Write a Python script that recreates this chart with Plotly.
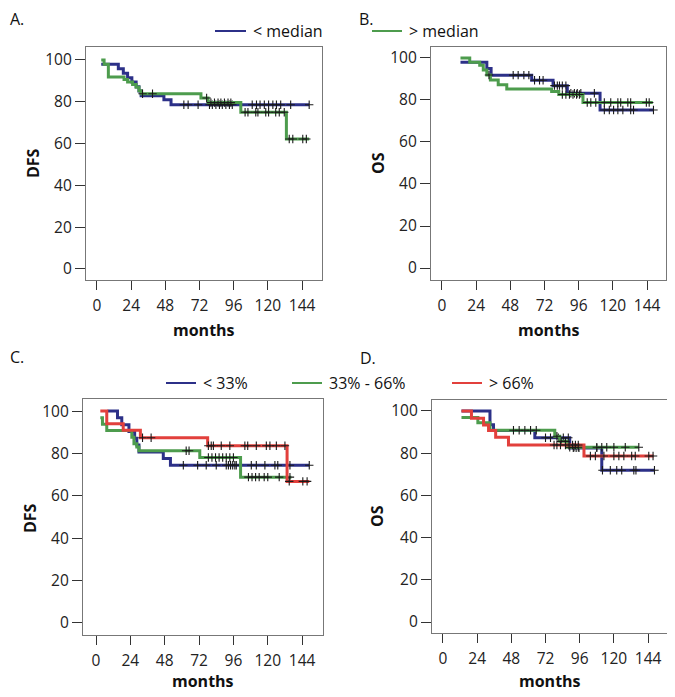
import plotly.graph_objects as go

# page body adds an 8px margin; the figure is sized so it fits the window exactly
OFF = 8
W, H = 675 - OFF, 697 - OFF

# ---------------- data ----------------
tick_vals_x = [0, 24, 48, 72, 96, 120, 144]
tick_vals_y = [0, 20, 40, 60, 80, 100]

# Panel A: DFS by median
a_lo_t = [3, 15, 18.5, 21.5, 24.5, 27.5, 29.5, 31, 47, 52, 149]
a_lo_s = [97.9, 95.8, 93.6, 91.5, 89.4, 87.2, 85.1, 82.9, 80.9, 78.6, 78.6]
a_lo_c = [61, 64, 71, 79, 81, 83.5, 86, 88, 90.5, 93, 95, 109, 112, 114.5, 117.5,
          120.5, 123.5, 126, 129, 136, 149]
a_hi_t = [3, 5, 8, 19, 21.5, 25, 27.5, 29.5, 31, 73, 78, 101, 133, 149]
a_hi_s = [100, 97.9, 91.9, 90.7, 89.5, 88.3, 86.9, 85.3, 83.8, 81.8, 79.6, 75.0, 62.2, 62.2]
a_hi_c = [32, 39, 77, 80, 82.5, 85, 87, 89.5, 92, 94, 104, 106, 111.5, 113, 118.5,
          120.5, 125.5, 128, 131.5, 135, 137.5, 144.5, 147]

# Panel B: OS by median
b_lo_t = [13, 31.5, 34.5, 63, 78, 88, 111, 148.5]
b_lo_s = [97.9, 95.0, 91.8, 89.4, 86.8, 83.2, 75.2, 75.2]
b_lo_c = [50, 53.5, 57.5, 61, 65, 68.5, 71, 79, 81, 82.5, 84.5, 87, 90.5, 93, 95, 97.5,
          107, 114, 117.5, 120.5, 123.5, 127, 132.5, 134.5, 148.5]
b_hi_t = [13, 19.5, 26.5, 29, 31.5, 34, 39.5, 45.5, 77, 82, 99, 148]
b_hi_s = [100, 97.9, 96.5, 94.3, 91.9, 89.5, 87.2, 85.2, 84.0, 82.6, 78.8, 78.8]
b_hi_c = [33, 84.5, 87, 89.5, 92, 94.5, 96.5, 102, 104.5, 108, 114, 118.5, 123.5,
          125.5, 130.5, 132.5, 143.5, 145.5]

# Panel C: DFS by tertile
c_lo_t = [8, 15, 18, 23, 27, 28.5, 30, 47, 52, 149]
c_lo_s = [100, 96.8, 93.6, 90.4, 87.2, 84.0, 80.7, 77.6, 74.4, 74.4]
c_lo_c = [61, 71, 77, 84, 91, 92.5, 94, 95.5, 97, 98, 108.5, 112, 118, 125, 127, 135.5, 149]
c_mid_t = [3, 4.5, 7.5, 25, 26.5, 28.5, 30, 72.5, 101, 136.5]
c_mid_s = [96.9, 93.8, 90.8, 87.6, 84.6, 83.0, 81.3, 78.1, 68.8, 68.8]
c_mid_c = [63, 65, 78.5, 81, 83.5, 86, 88.5, 91, 93.5, 96, 106.5, 109, 111.5, 114,
           117.5, 120, 128, 135.5]
c_hi_t = [3, 7.5, 19, 31, 78, 133.5, 149]
c_hi_s = [100, 94.0, 91.0, 87.4, 83.6, 66.8, 66.8]
c_hi_c = [32.5, 38.5, 78.5, 80.5, 82, 87.5, 93.5, 104, 106, 112, 119, 121.5, 126,
          132, 135, 144.5, 147.5]

# Panel D: OS by tertile
d_lo_t = [13, 33, 35.5, 64.5, 89, 111.5, 148.5]
d_lo_s = [100, 93.5, 90.8, 87.3, 82.5, 71.9, 71.9]
d_lo_c = [72, 75.5, 81, 84.5, 88, 91.5, 93.5, 95.5, 108, 112, 117.5, 122, 125.5,
          134, 135.5, 148.5]
d_mid_t = [13, 24.5, 33, 78.5, 82, 87, 137.5]
d_mid_s = [96.9, 94.4, 90.9, 88.0, 85.6, 82.8, 82.8]
d_mid_c = [49.5, 53.5, 57.5, 61.5, 65.5, 80, 83, 86, 89, 92, 95, 108, 111.5, 115,
           120, 128, 137.5]
d_hi_t = [13, 20, 28.5, 32, 37, 46, 99, 148]
d_hi_s = [100, 96.6, 93.4, 90.8, 87.6, 83.9, 78.7, 78.7]
d_hi_c = [78, 80, 82.5, 86, 88.5, 91, 93, 95, 103.5, 107, 113, 120, 123.5, 127,
          132.5, 135, 144.5, 147.5]

BLUE = "#2c3088"
GREEN = "#4d9c4d"
RED = "#e2403c"

FONT = "Open Sans"


def fx(px):
    return (px - OFF) / W


def fy(py):
    return 1 - (py - OFF) / H


# ---------------- layout (window-pixel frames) ----------------
frames = {
    1: dict(px=(86, 322), py=(47, 280), xr=(-7.7, 158.0), yr=(-5.3, 106.2)),
    2: dict(px=(431, 666), py=(47, 280), xr=(-7.7, 157.3), yr=(-5.7, 105.2)),
    3: dict(px=(83, 323), py=(399, 635), xr=(-9.1, 158.6), yr=(-5.7, 105.7)),
    4: dict(px=(432, 668), py=(400, 633), xr=(-7.7, 158.0), yr=(-5.2, 105.2)),
}

fig = go.Figure()


def surv_at(ts, ss, t):
    v = ss[0]
    for ti, si in zip(ts, ss):
        if ti <= t:
            v = si
    return v


def add_curve(k, ts, ss, cs, color):
    xa = "x" if k == 1 else f"x{k}"
    ya = "y" if k == 1 else f"y{k}"
    fig.add_trace(go.Scatter(x=ts, y=ss, mode="lines", line=dict(color=color, width=3, shape="hv"),
                             xaxis=xa, yaxis=ya, showlegend=False, hoverinfo="skip"))
    fig.add_trace(go.Scatter(x=cs, y=[surv_at(ts, ss, c) for c in cs], mode="markers",
                             marker=dict(symbol="cross-thin", size=6,
                                         line=dict(color="#1a1a1a", width=1.1)),
                             xaxis=xa, yaxis=ya, showlegend=False, hoverinfo="skip"))


add_curve(1, a_lo_t, a_lo_s, a_lo_c, BLUE)
add_curve(1, a_hi_t, a_hi_s, a_hi_c, GREEN)
add_curve(2, b_lo_t, b_lo_s, b_lo_c, BLUE)
add_curve(2, b_hi_t, b_hi_s, b_hi_c, GREEN)
add_curve(3, c_lo_t, c_lo_s, c_lo_c, BLUE)
add_curve(3, c_mid_t, c_mid_s, c_mid_c, GREEN)
add_curve(3, c_hi_t, c_hi_s, c_hi_c, RED)
add_curve(4, d_lo_t, d_lo_s, d_lo_c, BLUE)
add_curve(4, d_mid_t, d_mid_s, d_mid_c, GREEN)
add_curve(4, d_hi_t, d_hi_s, d_hi_c, RED)

layout = dict(width=W, height=H, margin=dict(l=0, r=0, t=0, b=0),
              paper_bgcolor="white", plot_bgcolor="white", showlegend=False,
              font=dict(family=FONT, size=15, color="#222"))

for k, f in frames.items():
    xk = "xaxis" if k == 1 else f"xaxis{k}"
    yk = "yaxis" if k == 1 else f"yaxis{k}"
    xa = "x" if k == 1 else f"x{k}"
    ya = "y" if k == 1 else f"y{k}"
    layout[xk] = dict(domain=[fx(f["px"][0]), fx(f["px"][1])], range=list(f["xr"]),
                      anchor=ya, tickvals=tick_vals_x, ticks="outside", ticklen=9,
                      tickcolor="#333", tickwidth=1, showline=True, linecolor="#777",
                      linewidth=1.3, mirror=True, showgrid=False, zeroline=False,
                      ticklabelstandoff=2,
                      tickfont=dict(family=FONT, size=15.5, color="#222"))
    layout[yk] = dict(domain=[fy(f["py"][1]), fy(f["py"][0])], range=list(f["yr"]),
                      anchor=xa, tickvals=tick_vals_y, ticks="outside", ticklen=10,
                      tickcolor="#333", tickwidth=1, showline=True, linecolor="#777",
                      linewidth=1.3, mirror=True, showgrid=False, zeroline=False,
                      tickfont=dict(family=FONT, size=15.5, color="#222"))

fig.update_layout(**layout)


def ann(px, py, text, size=15, bold=False, angle=0, xanchor="center"):
    fig.add_annotation(x=fx(px), y=fy(py), xref="paper", yref="paper", text=text,
                       showarrow=False, textangle=angle, xanchor=xanchor, yanchor="middle",
                       font=dict(family=FONT, size=size, color="#111",
                                 weight="bold" if bold else "normal"))


# panel letters
ann(8, 19, "A.", 16, xanchor="left")
ann(357, 19, "B.", 16, xanchor="left")
ann(8, 357, "C.", 16, xanchor="left")
ann(358, 358, "D.", 16, xanchor="left")

# axis titles
ann(33, 163, "DFS", 16, True, -90)
ann(378, 163, "OS", 16, True, -90)
ann(204, 330, "months", 16, True)
ann(549, 330, "months", 16, True)
ann(30, 518, "DFS", 16, True, -90)
ann(377, 516, "OS", 16, True, -90)
ann(203, 681, "months", 16, True)
ann(550, 681, "months", 16, True)


# legends
def leg(x0, x1, y, color, text):
    fig.add_shape(type="line", xref="paper", yref="paper", x0=fx(x0), x1=fx(x1),
                  y0=fy(y), y1=fy(y), line=dict(color=color, width=2))
    ann(x1 + 5, y, text, 16, xanchor="left")


leg(215, 246, 31, BLUE, "&lt; median")
leg(372, 402, 31, GREEN, "&gt; median")
leg(166, 196, 383, BLUE, "&lt; 33%")
leg(292, 322, 383, GREEN, "33% - 66%")
leg(452, 482, 383, RED, "&gt; 66%")

fig.write_html("out.html")
